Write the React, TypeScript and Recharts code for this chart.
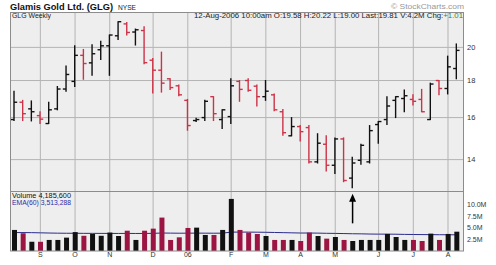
import { ComposedChart, Bar, Line, XAxis, YAxis, CartesianGrid, Cell, ReferenceLine } from 'recharts';

// weekly bars, Aug 2005 .. Aug 2006 (index = week number)
const OPEN = [15.9, 16.8, 16.45, 16.1, 15.7, 16.45, 17.52, 17.95, 19.5, 19.04, 19.85, 20.1, 20.75, 21.55, 21.0, 21.1, 19.2, 18.6, 18.1, 17.7, 16.9, 15.85, 16.0, 17.1, 15.9, 16.05, 17.95, 18.0, 17.68, 17.1, 17.2, 16.3, 15.1, 15.55, 15.5, 13.9, 14.7, 13.75, 14.95, 13.2, 13.97, 13.9, 15.65, 15.9, 16.9, 17.0, 16.95, 16.95, 15.9, 18.0, 17.55, 18.7];
const HIGH = [17.4, 16.9, 16.87, 16.3, 16.8, 17.66, 18.85, 20.1, 19.87, 20.17, 20.4, 20.8, 21.7, 21.65, 21.2, 21.35, 19.3, 19.7, 18.1, 17.75, 16.95, 15.97, 16.9, 17.1, 16.4, 18.1, 18.0, 18.1, 17.75, 18.0, 17.25, 16.42, 16.0, 15.6, 15.6, 15.2, 15.1, 15.0, 15.0, 14.1, 14.7, 15.6, 15.8, 17.1, 17.1, 17.46, 17.2, 17.5, 17.85, 18.0, 19.45, 20.22];
const LOW = [15.85, 15.85, 15.83, 15.7, 15.7, 16.4, 17.4, 17.66, 18.07, 18.3, 19.25, 18.3, 20.5, 20.8, 20.15, 18.98, 17.3, 17.35, 17.5, 17.15, 15.37, 15.8, 15.85, 15.85, 15.45, 15.7, 16.85, 17.4, 16.6, 16.9, 16.35, 15.13, 15.1, 14.85, 13.85, 13.85, 13.5, 13.4, 13.05, 12.8, 13.8, 13.85, 14.75, 15.65, 16.0, 16.3, 16.65, 16.3, 15.9, 17.2, 17.25, 18.1];
const CLOSE = [16.8, 16.2, 16.3, 15.92, 16.4, 17.52, 18.35, 19.5, 19.0, 19.6, 20.1, 20.8, 21.7, 20.97, 21.15, 19.05, 18.6, 17.85, 17.6, 17.2, 15.6, 15.9, 16.85, 16.2, 16.4, 17.7, 17.5, 17.45, 17.1, 17.4, 16.4, 15.25, 15.55, 15.3, 13.9, 14.75, 13.75, 14.95, 13.1, 13.85, 14.65, 15.35, 15.8, 16.6, 17.1, 17.15, 16.85, 16.3, 17.8, 17.55, 18.8, 19.81];
// volume in millions of shares
const VOLUME = [4.57, 3.85, 2.0, 2.0, 2.4, 2.4, 2.9, 4.1, 3.3, 3.7, 3.3, 4.0, 3.26, 4.4, 2.4, 4.4, 4.85, 7.25, 2.4, 2.97, 5.0, 5.07, 3.48, 3.48, 4.57, 11.3, 4.57, 4.0, 3.7, 3.26, 2.4, 2.4, 2.4, 2.17, 4.0, 3.26, 2.68, 3.04, 2.4, 2.17, 2.4, 2.4, 2.4, 3.7, 3.04, 2.4, 2.4, 2.17, 3.77, 2.4, 3.7, 4.19];
const EMA60 = [4.0, 4.0, 3.98, 3.94, 3.9, 3.87, 3.85, 3.85, 3.83, 3.83, 3.82, 3.82, 3.81, 3.82, 3.8, 3.81, 3.83, 3.9, 3.88, 3.86, 3.87, 3.88, 3.87, 3.86, 3.87, 4.1, 4.1, 4.1, 4.08, 4.06, 4.02, 3.98, 3.94, 3.9, 3.9, 3.88, 3.84, 3.82, 3.78, 3.74, 3.72, 3.68, 3.66, 3.66, 3.64, 3.6, 3.58, 3.56, 3.55, 3.53, 3.52, 3.51];

const MONTH_IDX = [3, 7, 11, 16, 20, 25, 29, 33, 37, 42, 46, 50];
const MONTH_LABELS = ['S', 'O', 'N', 'D', '06', 'F', 'M', 'A', 'M', 'J', 'J', 'A'];
const PRICE_TICKS = [14, 16, 18, 20];
const VOL_TICKS = [2.5, 5, 7.5, 10];
const ARROW_WEEK = 39;
const ARROW_FROM = 6.0;
const ARROW_TO = 12.4;

const FONT = '"Liberation Sans", Arial, sans-serif';
const UP = '#111111';
const DOWN = '#cc3347';
const VOL_DOWN = '#9c1441';
const GRID = '#b4b4b4';
const BG = '#eeeeee';

const rows = OPEN.map((o, i) => ({
  i,
  open: o,
  high: HIGH[i],
  low: LOW[i],
  close: CLOSE[i],
  range: [LOW[i], HIGH[i]],
  vol: VOLUME[i],
  ema: EMA60[i],
  up: i === 0 || CLOSE[i] >= CLOSE[i - 1],
}));

function OhlcBar(props: any) {
  const { x, y, width, height, payload } = props;
  if (x == null || y == null) return null;
  const top = Math.min(y, y + height);
  const h = Math.abs(height);
  const cx = x + width / 2;
  const lh = Math.log(payload.high);
  const ll = Math.log(payload.low);
  const at = (v: number) => (lh === ll ? top : top + (h * (lh - Math.log(v))) / (lh - ll));
  const color = payload.up ? UP : DOWN;
  return (
    <g stroke={color} strokeWidth={1.4}>
      <line x1={cx} x2={cx} y1={top - 0.5} y2={top + h + 0.5} />
      <line x1={cx - 3.2} x2={cx} y1={at(payload.open)} y2={at(payload.open)} />
      <line x1={cx} x2={cx + 3.2} y1={at(payload.close)} y2={at(payload.close)} />
    </g>
  );
}

function Arrow(props: any) {
  const { x1, y1, x2, y2 } = props;
  if (x1 == null) return null;
  const bottom = Math.max(y1, y2);
  const tip = Math.min(y1, y2);
  return (
    <g>
      <line x1={x1} x2={x2} y1={bottom} y2={tip + 6} stroke="#000" strokeWidth={1.5} />
      <polygon points={`${x1 - 3.5},${tip + 8} ${x1 + 3.5},${tip + 8} ${x1},${tip}`} fill="#000" />
    </g>
  );
}

const axisTick = { fontSize: 7.5, fill: '#333', fontFamily: FONT };

export default function App() {
  return (
    <div style={{ position: 'absolute', left: 0, top: 0, width: 496, height: 265, background: '#fff', overflow: 'hidden' }}>
      <div style={{ position: 'absolute', left: 0, top: 0 }}>
        <ComposedChart width={496} height={192} data={rows} margin={{ top: 12, right: 0, bottom: 0, left: 10 }}>
          <CartesianGrid horizontal={false} vertical={false} fill={BG} stroke="none" />
          <XAxis dataKey="i" type="category" height={0} tick={false} axisLine={false} tickLine={false} padding={{ left: 0, right: 3 }} />
          <YAxis
            orientation="right"
            scale="log"
            domain={[12.63, 22.38]}
            allowDataOverflow
            ticks={PRICE_TICKS}
            interval={0}
            width={32}
            axisLine={false}
            tickLine={false}
            tickSize={0}
            tickMargin={3}
            tick={axisTick}
          />
          {PRICE_TICKS.map((v) => (
            <ReferenceLine key={`h-${v}`} y={v} stroke={GRID} strokeWidth={1} zIndex={50} />
          ))}
          {MONTH_IDX.map((m) => (
            <ReferenceLine key={`v-${m}`} x={m} stroke={GRID} strokeWidth={1} zIndex={50} />
          ))}
          <Bar dataKey="range" shape={OhlcBar} barSize={8} isAnimationActive={false} />
        </ComposedChart>
      </div>
      <div style={{ position: 'absolute', left: 0, top: 192 }}>
        <ComposedChart width={496} height={73} data={rows} margin={{ top: 0, right: 0, bottom: 0, left: 10 }}>
          <CartesianGrid horizontal={false} vertical={false} fill={BG} stroke="none" />
          <XAxis
            dataKey="i"
            type="category"
            height={14}
            ticks={MONTH_IDX}
            interval={0}
            tickFormatter={(v: number) => MONTH_LABELS[MONTH_IDX.indexOf(v)] ?? ''}
            axisLine={false}
            tickLine={false}
            tickSize={0}
            tickMargin={1}
            tick={{ ...axisTick, fontSize: 7 }}
            padding={{ left: 0, right: 3 }}
          />
          <YAxis
            orientation="right"
            domain={[0, 12.8]}
            allowDataOverflow
            ticks={VOL_TICKS}
            interval={0}
            tickFormatter={(v: number) => `${v.toFixed(1)}M`}
            width={32}
            axisLine={false}
            tickLine={false}
            tickSize={0}
            tickMargin={3}
            tick={{ ...axisTick, fontSize: 7 }}
          />
          {MONTH_IDX.map((m) => (
            <ReferenceLine key={`vv-${m}`} x={m} stroke={GRID} strokeWidth={1} zIndex={50} />
          ))}
          <Line dataKey="ema" stroke="#2b2b8c" strokeWidth={1} dot={false} isAnimationActive={false} zIndex={250} />
          <Bar dataKey="vol" barSize={5} isAnimationActive={false}>
            {rows.map((r) => (
              <Cell key={`c-${r.i}`} fill={r.up ? UP : VOL_DOWN} />
            ))}
          </Bar>
          <ReferenceLine
            segment={[{ x: ARROW_WEEK, y: ARROW_FROM }, { x: ARROW_WEEK, y: ARROW_TO }]}
            shape={Arrow}
          />
        </ComposedChart>
      </div>
      <svg width={496} height={265} style={{ position: 'absolute', left: 0, top: 0, pointerEvents: 'none' }} fontFamily={FONT}>
        <rect x={10.5} y={12.5} width={453} height={179} fill="none" stroke="#8c8c8c" />
        <rect x={10.5} y={191.5} width={453} height={59.5} fill="none" stroke="#8c8c8c" />
        <text x={10} y={9.5} fontSize={8.5} fontWeight="bold" fill="#111" textLength={103} lengthAdjust="spacingAndGlyphs">
          Glamis Gold Ltd. (GLG)
        </text>
        <text x={118} y={9.5} fontSize={6.5} fill="#222" textLength={18} lengthAdjust="spacingAndGlyphs">
          NYSE
        </text>
        <text x={391} y={8.5} fontSize={7.5} fill="#999" textLength={73} lengthAdjust="spacingAndGlyphs">
          © StockCharts.com
        </text>
        <text x={12} y={18} fontSize={6.5} fill="#222" textLength={39} lengthAdjust="spacingAndGlyphs">
          GLG Weekly
        </text>
        <text x={194} y={18} fontSize={6.8} fill="#222" textLength={269} lengthAdjust="spacingAndGlyphs">
          12-Aug-2006 10:00am  O:19.58 H:20.22 L:19.00 Last:19.81 V:4.2M Chg:<tspan fill="#2e8b3a">+1.01</tspan>
        </text>
        <text x={12} y={197.8} fontSize={6.5} fill="#111" textLength={59} lengthAdjust="spacingAndGlyphs">
          Volume 4,185,600
        </text>
        <text x={12} y={204.5} fontSize={6.5} fill="#2b2baa" textLength={59} lengthAdjust="spacingAndGlyphs">
          EMA(60) 3,513,288
        </text>
      </svg>
    </div>
  );
}
